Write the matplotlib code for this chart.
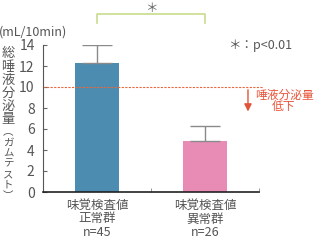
import numpy as np
import matplotlib.pyplot as plt

plt.rcParams['font.family'] = ['Noto Sans CJK JP', 'DejaVu Sans']

# データ
groups = ['味覚検査値\n正常群\nn=45', '味覚検査値\n異常群\nn=26']
means = [12.25, 4.82]
errors = [1.75, 1.42]
colors = ['#4b8cb0', '#e88cb6']
threshold = 10
yticks = [0, 2, 4, 6, 8, 10, 12, 14]

W, H = 320, 242
fig = plt.figure(figsize=(W / 100, H / 100), dpi=100)
ax = fig.add_axes([43 / W, 1 - 192 / H, 216 / W, 147 / H])

x = np.arange(len(groups))
ax.bar(x, means, width=0.4, color=colors)
ax.errorbar(x, means, yerr=[[0, 0], errors], fmt='none', ecolor='#8a8a8a',
            elinewidth=1, capsize=10.8, capthick=1)

ax.set_xlim(-0.5, 1.5)
ax.set_ylim(0, 14)
ax.set_yticks(yticks)
ax.set_xticks(x)
ax.set_xticklabels(groups, fontsize=9, color='#555', linespacing=1.05)
ax.set_xticks([0.5, 1.5], minor=True)
ax.tick_params(axis='x', which='major', length=0, pad=5)
ax.tick_params(axis='x', which='minor', direction='in', length=3, color='#888')
ax.tick_params(axis='y', direction='in', length=3, color='#666', labelsize=10,
               labelcolor='#555', pad=6)
for s in ['top', 'right']:
    ax.spines[s].set_visible(False)
ax.spines['left'].set_color('#555')
ax.spines['bottom'].set_color('#222')
ax.spines['bottom'].set_linewidth(1.2)

# 基準線と矢印
ax.plot([-0.5, 1.54], [threshold, threshold], color='#e8683c', lw=0.8,
        ls=(0, (2, 1.2)), clip_on=False)
ax.annotate('', xy=(1.398, 7.4), xytext=(1.398, threshold),
            arrowprops=dict(arrowstyle='-|>', color='#e0553a', lw=1,
                            mutation_scale=11), annotation_clip=False)
fig.text(284 / W, 1 - 95 / H, '唾液分泌量', color='#e8553a', fontsize=8.5,
         ha='center', va='center')
fig.text(284 / W, 1 - 106.5 / H, '低下', color='#e8553a', fontsize=8.5,
         ha='center', va='center')

# 有意差
ax.plot([0, 0, 1, 1], [16.1, 16.95, 16.95, 16.1], color='#c8dc8c', lw=1.2,
        clip_on=False)
fig.text(151 / W, 1 - 8 / H, '＊', color='#666', fontsize=9, ha='center',
         va='center')
fig.text(228 / W, 1 - 46 / H, '＊：p<0.01', color='#555', fontsize=9,
         ha='left', va='center')

# 軸ラベル
fig.text(33 / W, 1 - 32 / H, '(mL/10min)', color='#555', fontsize=9,
         ha='center', va='center')
for i, ch in enumerate('総唾液分泌量'):
    fig.text(8 / W, 1 - (54 + i * 13.2) / H, ch, color='#555', fontsize=9.5,
             ha='center', va='center')
for i, ch in enumerate('︵ガムテスト︶'):
    fig.text(8 / W, 1 - (132 + i * 10.6) / H, ch, color='#555', fontsize=7.5,
             ha='center', va='center')

fig.savefig('out.png', dpi=100)
